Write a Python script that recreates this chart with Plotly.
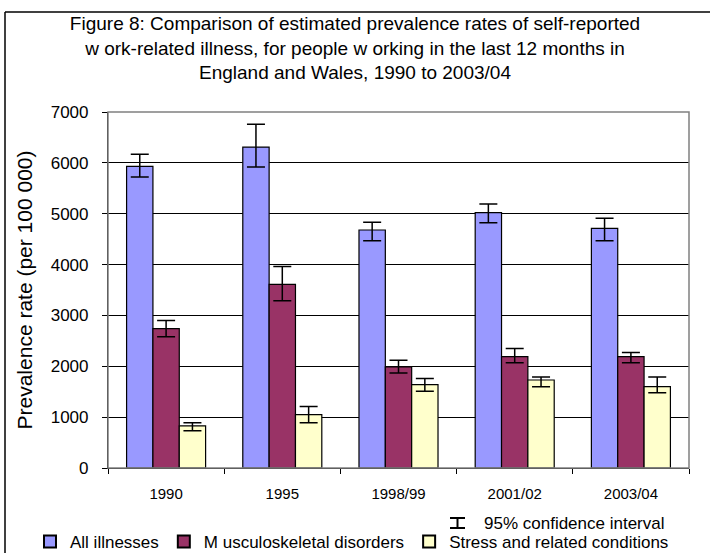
import plotly.graph_objects as go

categories = ["1990", "1995", "1998/99", "2001/02", "2003/04"]

all_ill = [5930, 6310, 4680, 5020, 4710]
all_ill_lo = [5720, 5920, 4470, 4820, 4470]
all_ill_hi = [6170, 6760, 4830, 5190, 4910]

msd = [2740, 3610, 1990, 2190, 2190]
msd_lo = [2580, 3290, 1870, 2070, 2070]
msd_hi = [2900, 3960, 2120, 2350, 2270]

stress = [830, 1050, 1640, 1730, 1600]
stress_lo = [730, 890, 1510, 1600, 1480]
stress_hi = [890, 1210, 1760, 1790, 1790]

series = [
    ("All illnesses", all_ill, all_ill_lo, all_ill_hi, "#9999FF"),
    ("M usculoskeletal disorders", msd, msd_lo, msd_hi, "#993366"),
    ("Stress and related conditions", stress, stress_lo, stress_hi, "#FFFFCC"),
]

W, H = 710, 553
L, R, T, B = 108, 689, 112, 468  # plot area in pixels

def px(x):
    return (x - L) / (R - L)

def py(y):
    return (B - y) / (B - T)

FONT = "Arial, Liberation Sans, sans-serif"

fig = go.Figure()
for name, vals, lo, hi, col in series:
    fig.add_trace(go.Bar(
        name=name, x=categories, y=vals,
        marker=dict(color=col, line=dict(color="black", width=1.2)),
        error_y=dict(type="data", symmetric=False,
                     array=[h - v for h, v in zip(hi, vals)],
                     arrayminus=[v - l for v, l in zip(vals, lo)],
                     color="black", thickness=1.5, width=9),
    ))

frame_line = dict(color="black", width=1.5)
shapes = [
    # outer frame (top and left edges; right/bottom lie outside the picture)
    dict(type="line", xref="paper", yref="paper", x0=px(5), x1=px(715), y0=py(12), y1=py(12),
         line=frame_line, layer="above"),
    dict(type="line", xref="paper", yref="paper", x0=px(5), x1=px(5), y0=py(12), y1=py(560),
         line=frame_line, layer="above"),
    # plot area border (grey)
    dict(type="rect", xref="paper", yref="paper", x0=0, x1=1, y0=0, y1=1,
         line=dict(color="#808080", width=1.5), fillcolor="rgba(0,0,0,0)", layer="above"),
    # CI legend glyph
    dict(type="line", xref="paper", yref="paper", x0=px(457.5), x1=px(457.5), y0=py(518), y1=py(528),
         line=dict(color="black", width=2)),
    dict(type="line", xref="paper", yref="paper", x0=px(450), x1=px(465), y0=py(518), y1=py(518),
         line=dict(color="black", width=2)),
    dict(type="line", xref="paper", yref="paper", x0=px(450), x1=px(465), y0=py(528), y1=py(528),
         line=dict(color="black", width=2)),
]

fig.update_layout(
    width=W, height=H,
    margin=dict(l=L, r=W - R, t=T, b=H - B, pad=0, autoexpand=False),
    paper_bgcolor="white", plot_bgcolor="white",
    font=dict(family=FONT, color="black"),
    title=dict(
        text="Figure 8: Comparison of estimated prevalence rates of self-reported<br>"
             "w ork-related illness, for people w orking in the last 12 months in<br>"
             "England and Wales, 1990 to 2003/04",
        x=0.5, xanchor="center", y=1 - 30 / H, yanchor="top", yref="container",
        font=dict(size=19, family=FONT, color="black"),
    ),
    barmode="group", bargap=0.32, bargroupgap=0,
    xaxis=dict(
        type="category", showline=True, linecolor="black", linewidth=1.2,
        ticks="outside", tickson="boundaries", ticklen=5, tickcolor="black",
        showgrid=False, tickfont=dict(size=15, family=FONT), ticklabelstandoff=12,
    ),
    yaxis=dict(
        range=[0, 7000], dtick=1000, showline=True, linecolor="black", linewidth=1.2,
        ticks="outside", ticklen=5, tickcolor="black",
        showgrid=True, gridcolor="black", gridwidth=1,
        tickfont=dict(size=17, family=FONT), zeroline=False, ticklabelstandoff=10,
        title=dict(text="Prevalence rate (per 100 000)", font=dict(size=21, family=FONT), standoff=12),
    ),
    showlegend=True,
    legend=dict(orientation="h", x=px(30), xanchor="left", y=py(524), yanchor="top",
                font=dict(size=17, family=FONT), bgcolor="rgba(0,0,0,0)",
                itemsizing="constant", tracegroupgap=0, traceorder="normal"),
    shapes=shapes,
    annotations=[
        dict(text="95% confidence interval", xref="paper", yref="paper",
             x=px(482), y=py(523), xanchor="left", yanchor="middle", showarrow=False,
             font=dict(size=17, family=FONT, color="black")),
    ],
)

fig.write_html("out.html", config={"displayModeBar": False},
               post_script="document.body.style.margin='0';")
